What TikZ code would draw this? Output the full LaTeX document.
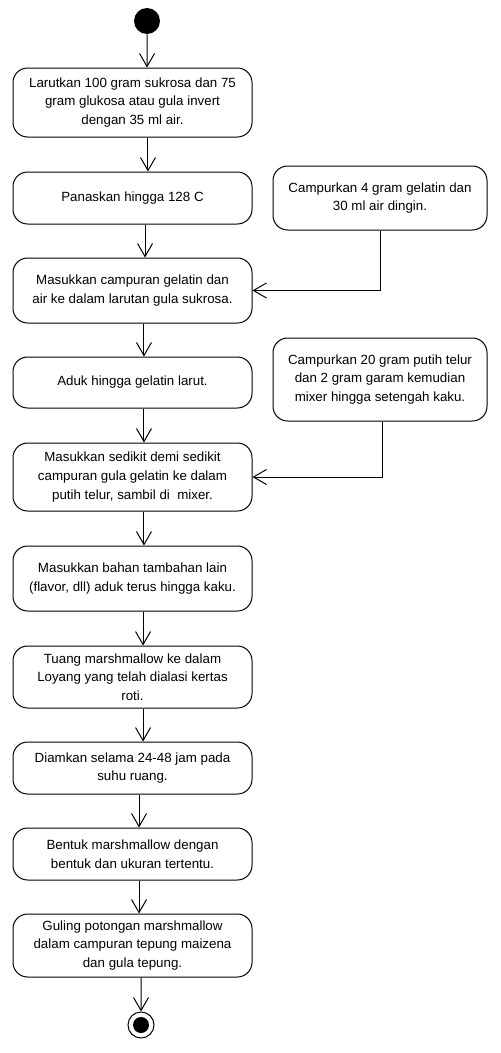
\documentclass[tikz,border=0pt]{standalone}
\usepackage{fontspec}
\setmainfont{Liberation Sans}
\usetikzlibrary{arrows.meta, calc, positioning}

\begin{document}
\begin{tikzpicture}[x=0.75pt, y=-0.75pt,
		act/.style={draw, line width=0.75pt, rounded corners=11pt, align=center, inner sep=0pt,
			minimum width=179.25pt, font=\fontsize{10}{14}\selectfont},
		side/.style={act, minimum width=160.5pt},
		flow/.style={line width=0.75pt, -{Straight Barb[length=9.75pt, width=11.25pt, line width=0.75pt]}}]
			\useasboundingbox (0, 0) rectangle (500, 1053);
			
			\coordinate (c1) at (132.5, 102.5);
			\coordinate (c2) at (132.5, 198);
			\coordinate (c3) at (132.5, 290.5);
			\coordinate (c4) at (132.5, 382.5);
			\coordinate (c5) at (132.5, 477);
			\coordinate (c6) at (132.5, 578.5);
			\coordinate (c7) at (132.5, 677);
			\coordinate (c8) at (132.5, 768);
			\coordinate (c9) at (132.5, 854);
			\coordinate (c10) at (132.5, 945.5);
			
			\coordinate (r1) at (380, 198);
			\coordinate (r2) at (380, 379.5);
			
			\node[circle, fill=black, inner sep=0pt, minimum size=19.5pt] (start) at (147, 21) {};
			
			\node[act, minimum height=51.75pt] (larut) at (c1) {Larutkan 100 gram sukrosa dan 75\\gram glukosa atau gula invert\\dengan 35 ml air.};
			\node[act, minimum height=39pt] (panas) at (c2) {Panaskan hingga 128 C};
			\node[act, minimum height=48.75pt] (gelatin) at (c3) {Masukkan campuran gelatin dan\\air ke dalam larutan gula sukrosa.};
			\node[act, minimum height=38.25pt] (aduk) at (c4) {Aduk hingga gelatin larut.};
			\node[act, minimum height=51pt] (telur) at (c5) {Masukkan sedikit demi sedikit\\campuran gula gelatin ke dalam\\putih telur, sambil di\ \ mixer.};
			\node[act, minimum height=48.75pt] (flavor) at (c6) {Masukkan bahan tambahan lain\\(flavor, dll) aduk terus hingga kaku.};
			\node[act, minimum height=46.5pt] (tuang) at (c7) {Tuang marshmallow ke dalam\\Loyang yang telah dialasi kertas\\roti.};
			\node[act, minimum height=39pt] (diam) at (c8) {Diamkan selama 24-48 jam pada\\suhu ruang.};
			\node[act, minimum height=39pt] (bentuk) at (c9) {Bentuk marshmallow dengan\\bentuk dan ukuran tertentu.};
			\node[act, minimum height=47.25pt] (guling) at (c10) {Guling potongan marshmallow\\dalam campuran tepung maizena\\dan gula tepung.};
			
			\node[side, minimum height=48pt] (campurA) at (r1) {Campurkan 4 gram gelatin dan\\30 ml air dingin.};
			\node[side, minimum height=62.25pt] (campurB) at (r2) {Campurkan 20 gram putih telur\\dan 2 gram garam kemudian\\mixer hingga setengah kaku.};
			
			\node[circle, draw, line width=0.75pt, inner sep=0pt, minimum size=19.5pt] (end) at (141, 1025) {};
			\fill (end.center) circle (6pt);
			
			\draw[flow] (start) -- ([xshift=10.9pt]larut.north);
			\draw[flow] ([xshift=11.6pt]larut.south) -- ([xshift=11.6pt]panas.north);
			\draw[flow] ([xshift=9.4pt]panas.south) -- ([xshift=9.4pt]gelatin.north);
			\draw[flow] ([xshift=8.6pt]gelatin.south) -- ([xshift=8.6pt]aduk.north);
			\draw[flow] ([xshift=8.6pt]aduk.south) -- ([xshift=8.6pt]telur.north);
			\draw[flow] ([xshift=8.6pt]telur.south) -- ([xshift=8.6pt]flavor.north);
			\draw[flow] ([xshift=7.9pt]flavor.south) -- ([xshift=7.9pt]tuang.north);
			\draw[flow] ([xshift=7.9pt]tuang.south) -- ([xshift=7.9pt]diam.north);
			\draw[flow] ([xshift=4.9pt]diam.south) -- ([xshift=4.9pt]bentuk.north);
			\draw[flow] ([xshift=4.9pt]bentuk.south) -- ([xshift=4.9pt]guling.north);
			\draw[flow] ([xshift=6.4pt]guling.south) -- (end);
			
			\draw[flow] (campurA.south) |- (gelatin.east);
			\draw[flow] ([xshift=2pt]campurB.south) |- (telur.east);
		\end{tikzpicture}
\end{document}
